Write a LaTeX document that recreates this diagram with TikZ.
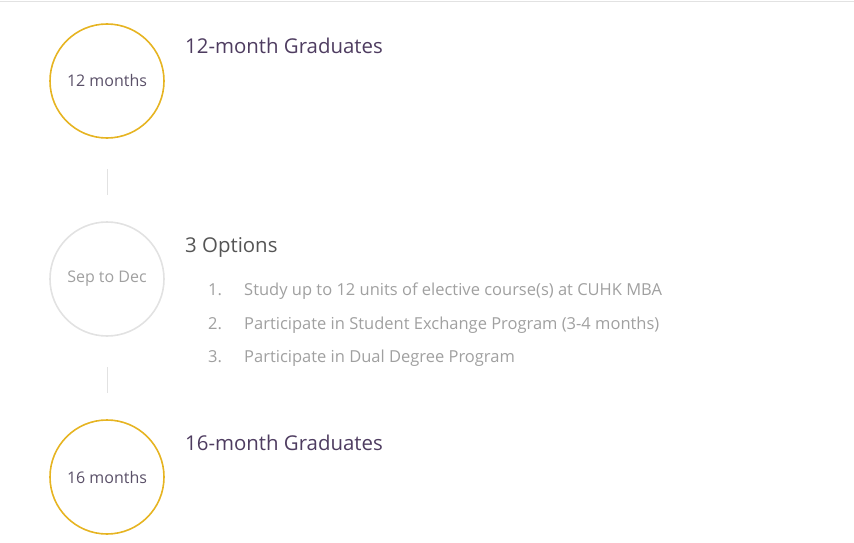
\documentclass[tikz,border=0pt]{standalone}
\usepackage{fontspec}
\setmainfont{Open Sans}
\definecolor{gold}{HTML}{E6B422}
\definecolor{ring}{HTML}{E2E2E2}
\definecolor{title}{HTML}{4E3C60}
\definecolor{inner}{HTML}{5A5068}
\definecolor{optgray}{HTML}{A0A0A0}
\definecolor{subgray}{HTML}{555555}
\begin{document}
\begin{tikzpicture}[x=1pt,y=-1pt,
  stage/.style={circle,draw=gold,line width=1.6pt,minimum size=114pt,inner sep=0pt,font=\fontsize{16}{18}\selectfont,text=inner},
  midstage/.style={circle,draw=ring,line width=1.6pt,minimum size=114pt,inner sep=0pt,font=\fontsize{16}{18}\selectfont,text=optgray},
  heading/.style={anchor=base west,inner sep=0pt,font=\fontsize{20.4}{24}\selectfont,text=title},
  opthead/.style={anchor=base west,inner sep=0pt,font=\fontsize{20.4}{24}\selectfont,text=subgray},
  item/.style={anchor=base west,inner sep=0pt,font=\fontsize{16.5}{19}\selectfont,text=optgray},
  link/.style={draw=ring,line width=1pt,shorten <=30pt,shorten >=26pt}]
\useasboundingbox (0,0) rectangle (854,543);
\draw[ring,line width=1pt] (0,2) -- (854,2);
\node[stage] (a) at (107,81) {12 months};
\node[midstage] (b) at (107,279) {Sep to Dec};
\node[stage] (c) at (107,477) {16 months};
\path[link] (a.south) -- (b.north);
\path[link] (b.south) -- (c.north);
\node[heading] (ha) at (185,54) {12-month Graduates};
\node[opthead] (hb) at (185,252) {3 Options};
\node[item] (n1) at (208,295) {1.};
\node[item] (t1) at (244,295) {Study up to 12 units of elective course(s) at CUHK MBA};
\node[item] (n2) at (208,329) {2.};
\node[item] (t2) at (244,329) {Participate in Student Exchange Program (3-4 months)};
\node[item] (n3) at (208,362) {3.};
\node[item] (t3) at (244,362) {Participate in Dual Degree Program};
\node[heading] (hc) at (185,450) {16-month Graduates};
\end{tikzpicture}
\end{document}
